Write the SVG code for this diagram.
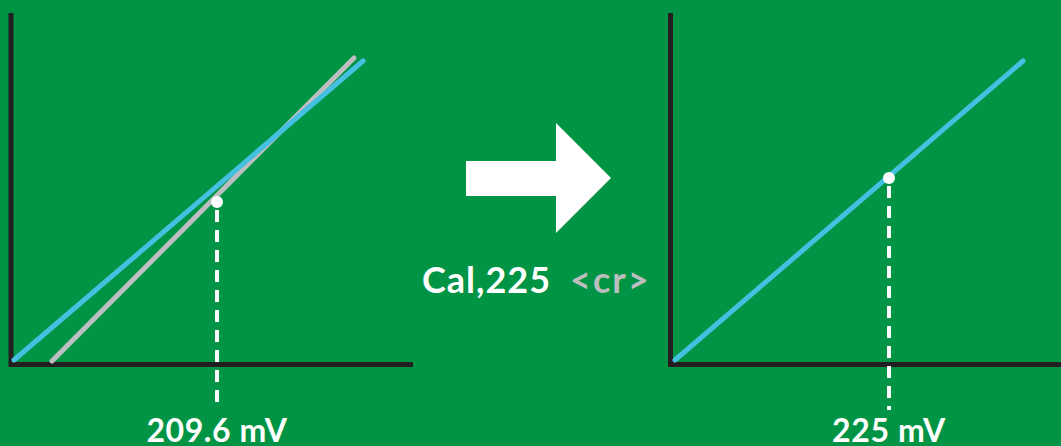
<svg xmlns="http://www.w3.org/2000/svg" width="1061" height="446" viewBox="0 0 1061 446">
<style>
.axis{stroke:#231f20;stroke-width:5;fill:none}
.blue{stroke:#45c0e0;stroke-width:5;stroke-linecap:round;fill:none}
.gray{stroke:#bcbec0;stroke-width:5;stroke-linecap:round;fill:none}
.dash{stroke:#fff;stroke-width:4;stroke-dasharray:12 8;fill:none}
.dot{fill:#fff}
.lbl{font-family:Lato,"Liberation Sans",sans-serif;font-weight:bold;fill:#fff}
</style>
<rect width="1061" height="446" fill="#009444"/>
<g id="chart-before">
<path class="axis" d="M11 13V364.5H413"/>
<line class="gray" x1="52" y1="361" x2="354" y2="58"/>
<line class="blue" x1="14" y1="360" x2="363" y2="61"/>
<line class="dash" x1="217" y1="210" x2="217" y2="410"/>
<circle class="dot" cx="217" cy="202" r="6"/>
<text class="lbl" x="217" y="442" font-size="32" letter-spacing="0.6" text-anchor="middle">209.6 mV</text>
</g>
<g id="arrow">
<path d="M466 161H556V123L611 178L556 233V196H466Z" fill="#fff"/>
<text class="lbl" x="422" y="293" font-size="36" letter-spacing="1">Cal,225</text>
<text class="lbl" x="570" y="293" font-size="36" letter-spacing="2" style="fill:#bcbec0">&lt;cr&gt;</text>
</g>
<g id="chart-after">
<path class="axis" d="M670.5 13V364.5H1061"/>
<line class="blue" x1="675" y1="360" x2="1023" y2="61"/>
<line class="dash" x1="889" y1="186" x2="889" y2="410"/>
<circle class="dot" cx="889" cy="178" r="6"/>
<text class="lbl" x="889" y="442" font-size="32" letter-spacing="0.6" text-anchor="middle">225 mV</text>
</g>
</svg>
